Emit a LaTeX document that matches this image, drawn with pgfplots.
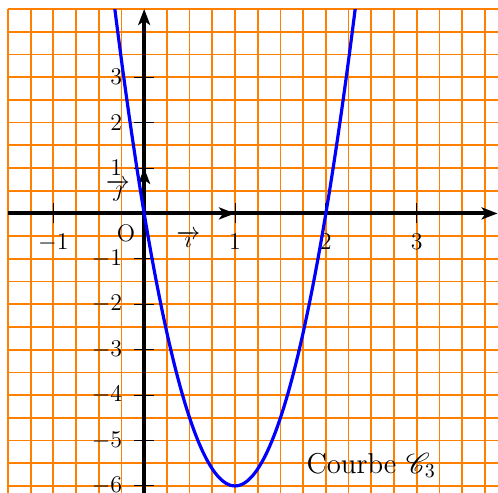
\documentclass[border=0pt]{standalone}
\usepackage{mathrsfs}
\usepackage{pgfplots}
\pgfplotsset{compat=1.18}
\usetikzlibrary{arrows.meta}
\begin{document}
\begin{tikzpicture}
\begin{axis}[
  x=1.6cm, y=0.8cm,
  xmin=-1.5, xmax=3.89, ymin=-6.5, ymax=4.5,
  axis lines=middle,
  axis line style={line width=2pt, -{Stealth[length=8pt,width=6pt,inset=2pt]}},
  xtick={-1.5,-1.25,...,3.75}, ytick={-6.5,-6,...,4.5},
  xticklabels={}, yticklabels={},
  major tick length=0pt,
  xmajorgrids=true, ymajorgrids=true,
  major grid style={draw=orange, line width=0.9pt},
  tick align=center,
  extra x ticks={-1,1,2,3},
  extra x tick labels={$-1$,$1$,$2$,$3$},
  extra y ticks={-6,-5,-4,-3,-2,-1,1,2,3},
  extra y tick labels={$-6$,$-5$,$-4$,$-3$,$-2$,$-1$,$1$,$2$,$3$},
  extra tick style={major tick length=10pt, xmajorgrids=false, ymajorgrids=false,
     tick style={draw=black, line width=0.5pt}},
  ticklabel style={font=\large},
  xticklabel style={yshift=-2pt},
  yticklabel style={xshift=-2.5pt},
]
\draw[line width=2pt, -{Stealth[length=8pt,width=6pt,inset=2pt]}] (axis cs:0,0) -- (axis cs:1,0);
\draw[line width=2pt, -{Stealth[length=8pt,width=6pt,inset=2pt]}] (axis cs:0,0) -- (axis cs:0,1);
\addplot[blue, line width=1.6pt, smooth] coordinates {
(-0.35,4.935) (-0.3,4.14) (-0.25,3.375) (-0.2,2.64) (-0.15,1.935) (-0.1,1.26) (-0.05,0.615)
(0,0) (0.05,-0.585) (0.1,-1.14) (0.15,-1.665) (0.2,-2.16) (0.25,-2.625) (0.3,-3.06)
(0.35,-3.465) (0.4,-3.84) (0.45,-4.185) (0.5,-4.5) (0.55,-4.785) (0.6,-5.04) (0.65,-5.265)
(0.7,-5.46) (0.75,-5.625) (0.8,-5.76) (0.85,-5.865) (0.9,-5.94) (0.95,-5.985) (1,-6)
(1.05,-5.985) (1.1,-5.94) (1.15,-5.865) (1.2,-5.76) (1.25,-5.625) (1.3,-5.46) (1.35,-5.265)
(1.4,-5.04) (1.45,-4.785) (1.5,-4.5) (1.55,-4.185) (1.6,-3.84) (1.65,-3.465) (1.7,-3.06)
(1.75,-2.625) (1.8,-2.16) (1.85,-1.665) (1.9,-1.14) (1.95,-0.585) (2,0) (2.05,0.615)
(2.1,1.26) (2.15,1.935) (2.2,2.64) (2.25,3.375) (2.3,4.14) (2.35,4.935)
};
\node[font=\large] at (axis cs:-0.2,-0.44) {O};
\node[font=\large] at (axis cs:0.485,-0.57) {$\overrightarrow{\imath}$};
\node[font=\large] at (axis cs:-0.29,0.5) {$\overrightarrow{\jmath}$};
\node[font=\Large] at (axis cs:2.5,-5.54) {Courbe $\mathscr{C}_3$};
\coordinate (bl) at (axis cs:-1.587,-6.155);
\coordinate (tr) at (axis cs:3.895,4.699);
\end{axis}
\pgfresetboundingbox
\useasboundingbox (bl) rectangle (tr);
\end{tikzpicture}
\end{document}
